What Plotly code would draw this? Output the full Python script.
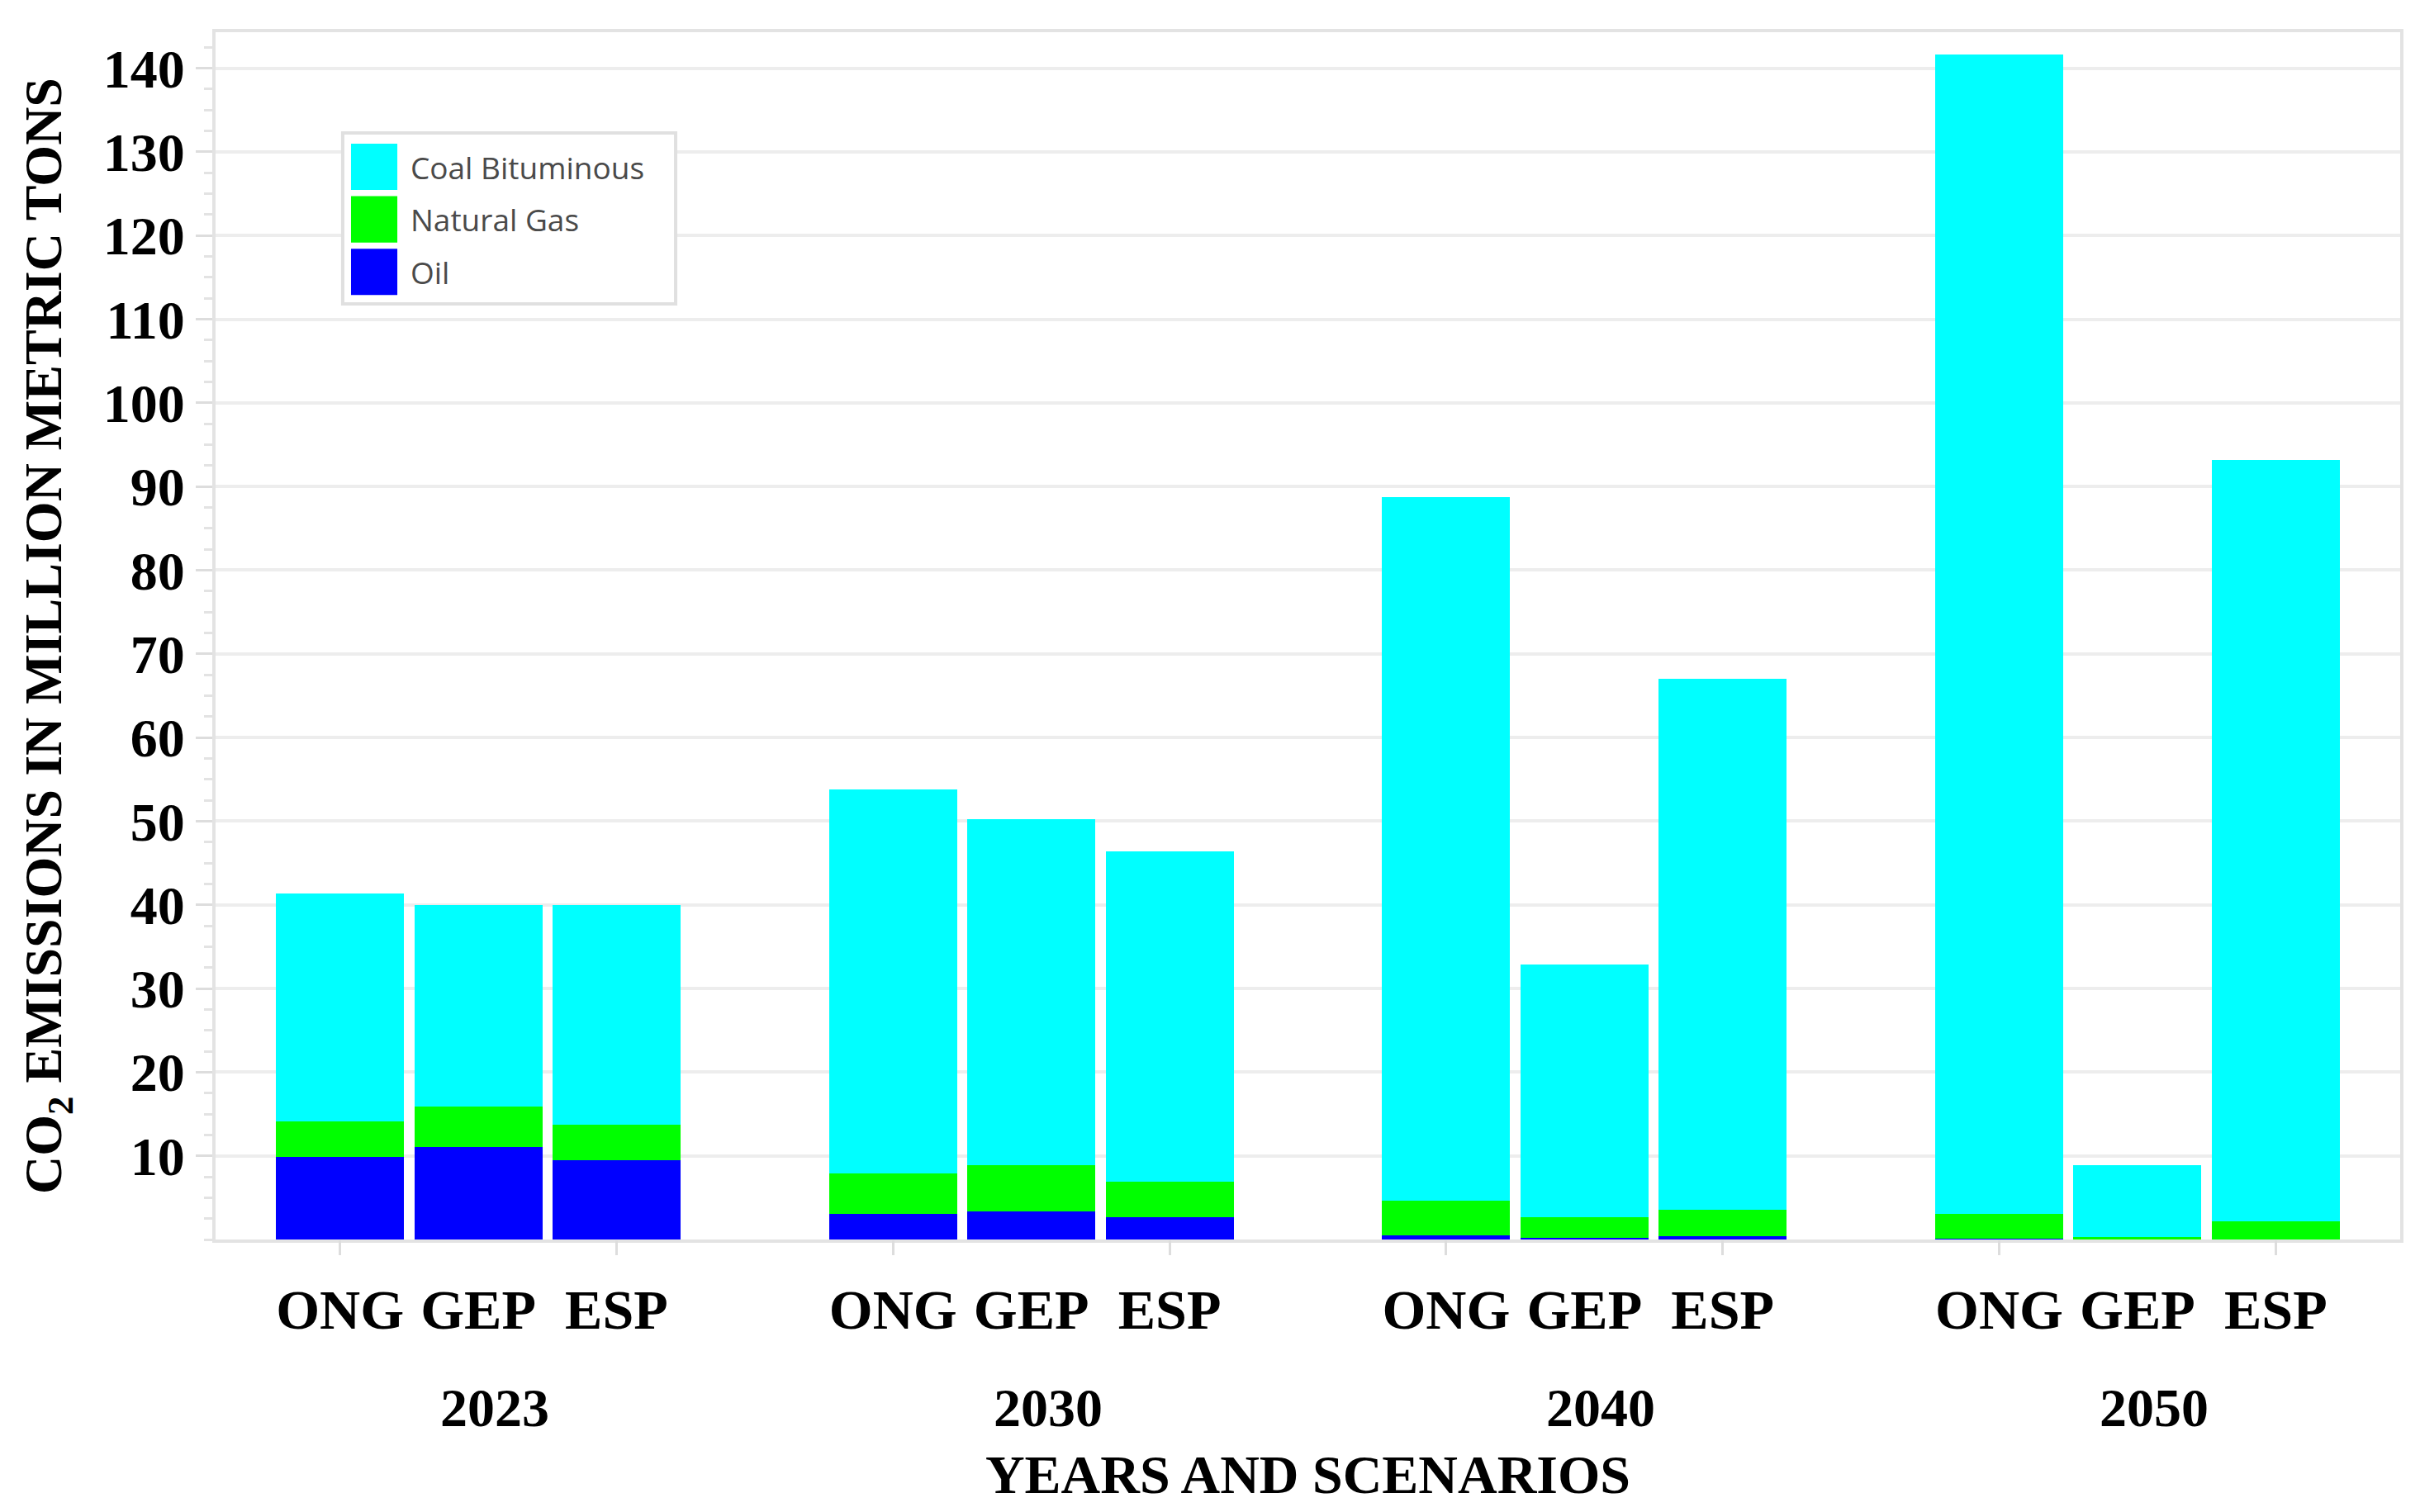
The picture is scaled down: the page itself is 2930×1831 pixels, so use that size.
import plotly.graph_objects as go

# ---------------- data ----------------
years = ["2023", "2030", "2040", "2050"]
scenarios = ["ONG", "GEP", "ESP"]

# values in million metric tons, order: 2023 ONG/GEP/ESP, 2030 ..., 2040 ..., 2050 ...
oil = [9.9, 11.1, 9.5, 3.1, 3.4, 2.7, 0.5, 0.2, 0.4, 0.1, 0.0, 0.0]
natural_gas = [4.2, 4.8, 4.2, 4.8, 5.5, 4.2, 4.1, 2.5, 3.2, 3.0, 0.3, 2.2]
coal_bituminous = [27.3, 24.1, 26.3, 45.9, 41.3, 39.5, 84.1, 30.2, 63.4, 138.5, 8.6, 91.0]

series_names = ["Coal Bituminous", "Natural Gas", "Oil"]
series_values = [coal_bituminous, natural_gas, oil]
series_colors = ["#00FFFF", "#00FF00", "#0000FF"]

y_ticks = [10, 20, 30, 40, 50, 60, 70, 80, 90, 100, 110, 120, 130, 140]

# ---------------- positions (one empty slot between year groups) ----------------
slot = len(scenarios) + 1
positions, labels = [], []
for gi, yr in enumerate(years):
    for si, sc in enumerate(scenarios):
        positions.append(gi * slot + si)
        labels.append(sc)
group_centers = [gi * slot + (len(scenarios) - 1) / 2 for gi in range(len(years))]
minor_x_ticks = list(range(0, max(positions) + 1, 2))

SERIF = "Liberation Serif"
SANS = "Open Sans"

fig = go.Figure()
# stack from bottom: Oil, Natural Gas, Coal Bituminous
for name, vals, color in reversed(list(zip(series_names, series_values, series_colors))):
    fig.add_trace(go.Bar(
        x=positions, y=vals, name=name,
        marker=dict(color=color, line=dict(width=0)),
        showlegend=False,
    ))

# helper (invisible) trace so the secondary x axis carrying the small ticks is drawn
fig.add_trace(go.Scatter(
    x=positions, y=[None] * len(positions), xaxis="x2", mode="markers",
    marker=dict(opacity=0), showlegend=False, hoverinfo="skip",
))

x_range = [-0.9, max(positions) + 0.9]

fig.update_layout(
    width=2930, height=1831,
    margin=dict(l=253, r=32, t=31, b=338),
    paper_bgcolor="white", plot_bgcolor="white",
    barmode="stack", bargap=0.074,
    xaxis=dict(
        range=x_range,
        tickmode="array", tickvals=positions, ticktext=labels,
        ticks="", ticklabelstandoff=22,
        tickfont=dict(family=SERIF, size=68, color="black", weight="bold"),
        showgrid=False, zeroline=False,
        showline=True, linecolor="#e3e3e3", linewidth=4, mirror=True,
        title=dict(text="YEARS AND SCENARIOS", standoff=140,
                   font=dict(family=SERIF, size=66, color="black", weight="bold")),
    ),
    xaxis2=dict(
        overlaying="x", anchor="y", side="bottom",
        range=x_range,
        tickmode="array", tickvals=minor_x_ticks,
        ticks="outside", ticklen=18, tickwidth=3, tickcolor="#dddddd",
        showticklabels=False, showgrid=False, zeroline=False, showline=False,
    ),
    yaxis=dict(
        range=[0, 144.3],
        tickmode="array", tickvals=y_ticks,
        ticks="outside", ticklen=20, tickwidth=3, tickcolor="#dddddd",
        tickfont=dict(family=SERIF, size=66, color="black", weight="bold"),
        showgrid=True, gridcolor="#ededed", gridwidth=4,
        minor=dict(tick0=0, dtick=2.5, ticks="outside", ticklen=10,
                   tickwidth=3, tickcolor="#e3e3e3", showgrid=False),
        zeroline=False,
        showline=True, linecolor="#e3e3e3", linewidth=4, mirror=True,
        title=dict(text="CO<sub>2</sub> EMISSIONS IN MILLION METRIC TONS", standoff=30,
                   font=dict(family=SERIF, size=64, color="black", weight="bold")),
    ),
)

# year labels under each group
for yr, xc in zip(years, group_centers):
    fig.add_annotation(
        x=xc, xref="x", y=-0.139, yref="paper",
        text=yr, showarrow=False, xanchor="center", yanchor="middle", xshift=20,
        font=dict(family=SERIF, size=66, color="black", weight="bold"),
    )

# ---------------- legend (drawn in paper coords) ----------------
lx0, lx1, ly0, ly1 = 0.0582, 0.2106, 0.775, 0.9166
fig.add_shape(type="rect", xref="paper", yref="paper",
              x0=lx0, x1=lx1, y0=ly0, y1=ly1,
              line=dict(color="#e0e0e0", width=4), fillcolor="white", layer="above")
row0, pitch, half = 0.8885, 0.0435, 0.0192
for i, (name, color) in enumerate(zip(series_names, series_colors)):
    yc = row0 - i * pitch
    fig.add_shape(type="rect", xref="paper", yref="paper",
                  x0=0.062, x1=0.0832, y0=yc - half, y1=yc + half,
                  line=dict(width=0), fillcolor=color, layer="above")
    fig.add_annotation(x=0.0885, xref="paper", y=yc, yref="paper",
                       text=name, showarrow=False, xanchor="left", yanchor="middle",
                       font=dict(family=SANS, size=37, color="#4a4a4a"))

fig.write_html("out.html")
